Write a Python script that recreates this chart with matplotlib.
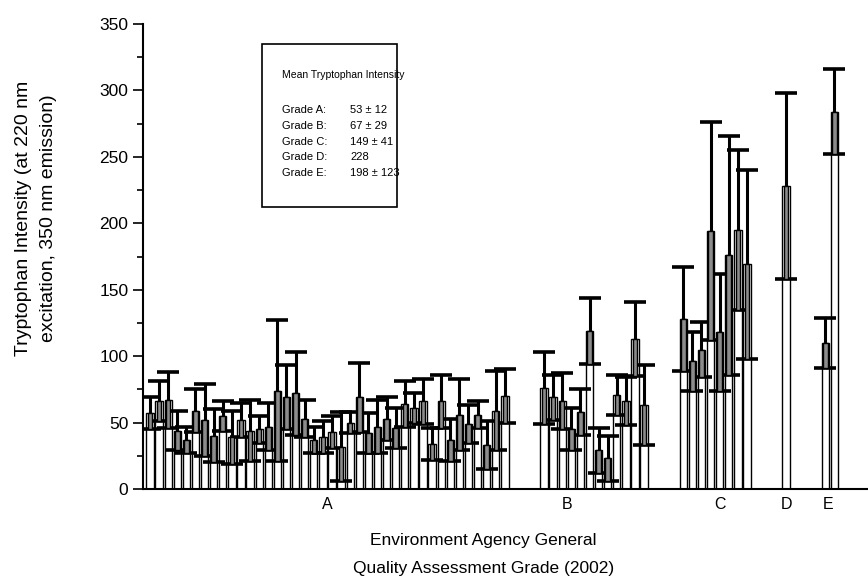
import numpy as np
import matplotlib
matplotlib.use('Agg')
from matplotlib import pyplot as plt
from matplotlib.patches import Rectangle

plt.rcParams['font.family'] = ['Liberation Sans', 'DejaVu Sans']

# mean and standard deviation of each sample, by grade
mean_a = [57, 66, 67, 44, 37, 59, 52, 40, 55, 39, 52, 44, 45, 47, 74, 69, 72, 53, 37, 39,
          43, 32, 50, 69, 42, 47, 53, 46, 64, 61, 66, 34, 66, 37, 56, 49, 56, 33, 59, 70]
sd_a = [12, 15, 21, 15, 10, 16, 27, 20, 11, 20, 13, 23, 10, 18, 53, 24, 31, 14, 10, 12,
        12, 26, 8, 26, 15, 20, 16, 15, 17, 11, 17, 12, 20, 16, 27, 14, 10, 18, 30, 20]
mean_b = [76, 69, 66, 45, 58, 119, 29, 23, 71, 66, 113, 63]
sd_b = [27, 17, 21, 16, 17, 25, 17, 17, 15, 18, 28, 30]
mean_c = [128, 96, 105, 194, 118, 176, 195, 169]
sd_c = [39, 22, 21, 82, 44, 90, 60, 71]
mean_d = [228]
sd_d = [70]
mean_e = [110, 284]
sd_e = [19, 32]

grades = ['A', 'B', 'C', 'D', 'E']
grade_pos = [19.5, 45.8, 62.6, 69.9, 74.5]

legend_title = 'Mean Tryptophan Intensity'
legend_grades = ['Grade A:', 'Grade B:', 'Grade C:', 'Grade D:', 'Grade E:']
legend_values = ['53 \u00b1 12', '67 \u00b1 29', '149 \u00b1 41', '228', '198 \u00b1 123']

groups = [(mean_a, sd_a), (mean_b, sd_b), (mean_c, sd_c), (mean_d, sd_d), (mean_e, sd_e)]
gap = 4.3

xs, means, sds = [], [], []
start = 0.0
for m, s in groups:
    pos = start + np.arange(len(m))
    xs.extend(pos)
    means.extend(m)
    sds.extend(s)
    start = pos[-1] + gap
xs = np.array(xs)
means = np.array(means, dtype=float)
sds = np.array(sds, dtype=float)

fig = plt.figure(figsize=(8.68, 5.86), dpi=100)
ax = fig.add_axes([0.1647, 0.1655, 0.8353, 0.7935])

ax.bar(xs, means, width=0.8, color='white', edgecolor='black', linewidth=1.0, zorder=1)
ax.errorbar(xs, means, yerr=sds, fmt='none', ecolor='black', elinewidth=2.2,
            capsize=8, capthick=2.6, zorder=3)
ax.bar(xs, sds, bottom=means - sds, width=0.5, color='0.55', edgecolor='black',
       linewidth=1.0, zorder=4)

ax.set_xlim(-0.77, 78.9)
ax.set_ylim(0, 350)
ax.set_yticks(np.arange(0, 351, 50))
ax.set_yticks(np.arange(25, 350, 50), minor=True)
ax.set_xticks(grade_pos)
ax.set_xticklabels(grades)
ax.tick_params(axis='y', which='major', length=7, width=1.2, labelsize=12.5, direction='out')
ax.tick_params(axis='y', which='minor', length=4, width=1.2, direction='out')
ax.tick_params(axis='x', length=0, labelsize=11.5, pad=6)
for side in ['top', 'right']:
    ax.spines[side].set_visible(False)
for side in ['left', 'bottom']:
    ax.spines[side].set_linewidth(1.5)

ax.set_ylabel('Tryptophan Intensity (at 220 nm\nexcitation, 350 nm emission)', fontsize=14,
              linespacing=1.65)
ax.yaxis.set_label_coords(-0.118, 0.583)
ax.set_xlabel('Environment Agency General\nQuality Assessment Grade (2002)', fontsize=12.5,
              linespacing=2.1)
ax.xaxis.set_label_coords(0.47, -0.094)
ax.xaxis.label.set_va('top')

# legend box with the grade means
ax.add_patch(Rectangle((0.164, 0.606), 0.186, 0.351, transform=ax.transAxes,
                       facecolor='white', edgecolor='black', linewidth=1.2, zorder=5))
ax.text(0.192, 0.89, legend_title, transform=ax.transAxes, fontsize=7.5, va='center', zorder=6)
for k in range(len(legend_grades)):
    y = 0.815 - k * 0.034
    ax.text(0.192, y, legend_grades[k], transform=ax.transAxes, fontsize=8, va='center', zorder=6)
    ax.text(0.2855, y, legend_values[k], transform=ax.transAxes, fontsize=8, va='center', zorder=6)

fig.savefig('out.png', dpi=100)
